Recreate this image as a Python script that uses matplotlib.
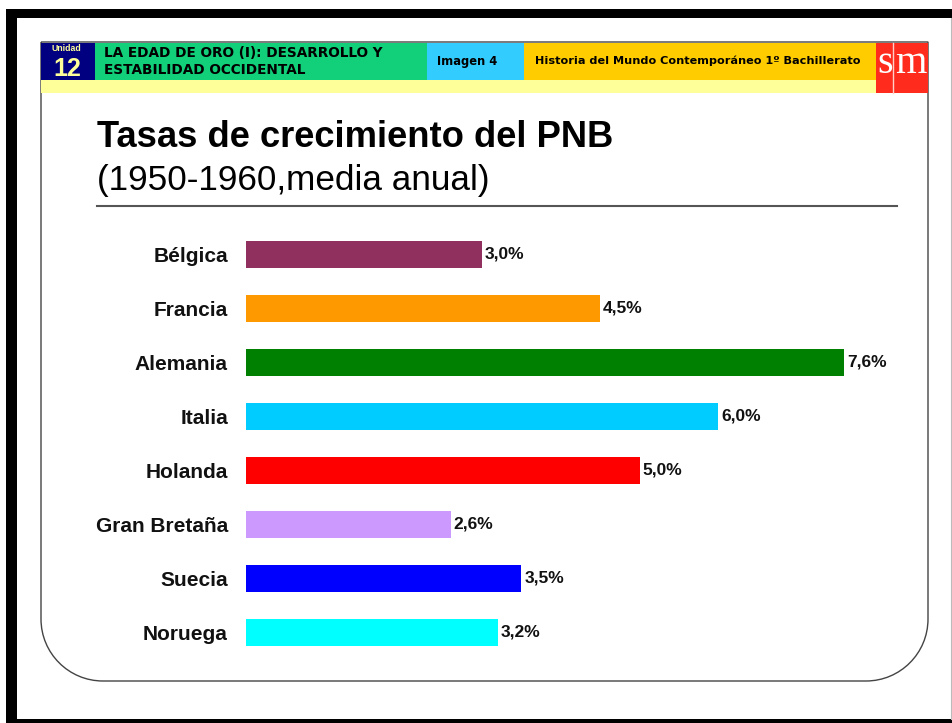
import matplotlib.pyplot as plt
import matplotlib.patches as mpatches
from matplotlib.path import Path

# datos: tasas de crecimiento del PNB 1950-1960 (media anual, %)
paises = ["Bélgica", "Francia", "Alemania", "Italia", "Holanda", "Gran Bretaña", "Suecia", "Noruega"]
tasas = [3.0, 4.5, 7.6, 6.0, 5.0, 2.6, 3.5, 3.2]
colores = ["#90305E", "#FF9900", "#008000", "#00CCFF", "#FF0000", "#CC99FF", "#0000FF", "#00FFFF"]

titulo = "Tasas de crecimiento del PNB"
subtitulo = "(1950-1960,media anual)"
cabecera_tema = "LA EDAD DE ORO (I): DESARROLLO Y\nESTABILIDAD OCCIDENTAL"
cabecera_imagen = "Imagen 4"
cabecera_libro = "Historia del Mundo Contemporáneo 1º Bachillerato"

W, H = 953, 723
FUENTE = ["Liberation Sans", "DejaVu Sans"]

fig = plt.figure(figsize=(W / 100, H / 100), dpi=100)
fig.patch.set_facecolor("white")

# capa de fondo en pixeles (y hacia abajo)
bg = fig.add_axes([0, 0, 1, 1])
bg.set_xlim(0, W)
bg.set_ylim(H, 0)
bg.axis("off")


def caja(x0, y0, x1, y1, color, **kw):
    bg.add_patch(mpatches.Rectangle((x0, y0), x1 - x0, y1 - y0, facecolor=color,
                                    edgecolor="none", **kw))


# marco negro de la diapositiva
caja(6, 9, W, 18, "black")
caja(6, 9, 17, H, "black")
caja(6, 719, W, H, "black")
bg.plot([951, 951], [18, 719], color="#BBBBBB", lw=0.8)

# contorno con esquinas inferiores redondeadas
L, R, T, B, r = 41, 928, 42, 681, 62
k = 0.5523 * r
verts = [(L, T), (L, B - r),
         (L, B - r + k), (L + r - k, B), (L + r, B),
         (R - r, B),
         (R - r + k, B), (R, B - r + k), (R, B - r),
         (R, T), (L, T)]
codes = [Path.MOVETO, Path.LINETO,
         Path.CURVE4, Path.CURVE4, Path.CURVE4,
         Path.LINETO,
         Path.CURVE4, Path.CURVE4, Path.CURVE4,
         Path.LINETO, Path.LINETO]
bg.add_patch(mpatches.PathPatch(Path(verts, codes), facecolor="none",
                                edgecolor="#444444", lw=1.0))

# barra de cabecera
caja(41, 80, 876, 93, "#FFFF99")
caja(41, 43, 95, 80, "#000080")
caja(95, 43, 427, 80, "#12D07A")
caja(427, 43, 524, 80, "#33CCFF")
caja(524, 43, 876, 80, "#FFCC00")
caja(876, 43, 928, 93, "#FF2B1C")
bg.plot([893, 893], [43, 93], color="#FFD0C8", lw=1.0)

bg.text(66, 48.5, "Unidad", color="#FFFF99", fontsize=6.3, fontweight="bold",
        family=FUENTE, ha="center", va="center")
bg.text(67, 76, "12", color="#FFFF99", fontsize=18, fontweight="bold",
        family=FUENTE, ha="center", va="baseline")
bg.text(104, 61.5, cabecera_tema, fontsize=9.8, fontweight="bold", family="DejaVu Sans",
        ha="left", va="center", linespacing=1.25)
bg.text(467, 61, cabecera_imagen, fontsize=8.3, fontweight="bold", family="DejaVu Sans",
        ha="center", va="center")
bg.text(535, 61, cabecera_libro, fontsize=8.1, fontweight="bold", family="DejaVu Sans",
        ha="left", va="center")
bg.text(885, 73, "s", color="white", fontsize=29, family="Liberation Serif",
        ha="center", va="baseline")
bg.text(911, 73, "m", color="white", fontsize=29, family="Liberation Serif",
        ha="center", va="baseline")

# titulo y subtitulo
bg.text(97, 147, titulo, fontsize=26.2, fontweight="bold", family=FUENTE, va="baseline")
bg.text(97, 190, subtitulo, fontsize=25.3, family=FUENTE, va="baseline")
bg.plot([97, 897], [206, 206], color="#555555", lw=1.5)

# grafico de barras horizontales
px_unidad = 78.7
ax = fig.add_axes([246 / W, 1 - 659 / H, 8 * px_unidad / W, 432 / H])
ax.set_facecolor("none")
pos = list(range(len(paises)))
ax.barh(pos, tasas, height=0.5, color=colores, edgecolor="none")
ax.set_xlim(0, 8)
ax.set_ylim(len(paises) - 0.5, -0.5)
ax.set_xticks([])
ax.set_yticks(pos)
ax.set_yticklabels(paises, fontsize=15, fontweight="bold", family=FUENTE, color="#111111")
ax.tick_params(axis="y", length=0, pad=13)
for s in ax.spines.values():
    s.set_visible(False)

for i, v in enumerate(tasas):
    etiqueta = f"{v:.1f}".replace(".", ",") + "%"
    ax.annotate(etiqueta, (v, i), xytext=(2, 0), textcoords="offset points",
                fontsize=12.5, fontweight="bold", family=FUENTE, color="#111111",
                ha="left", va="center")

fig.savefig("out.png", dpi=100)
